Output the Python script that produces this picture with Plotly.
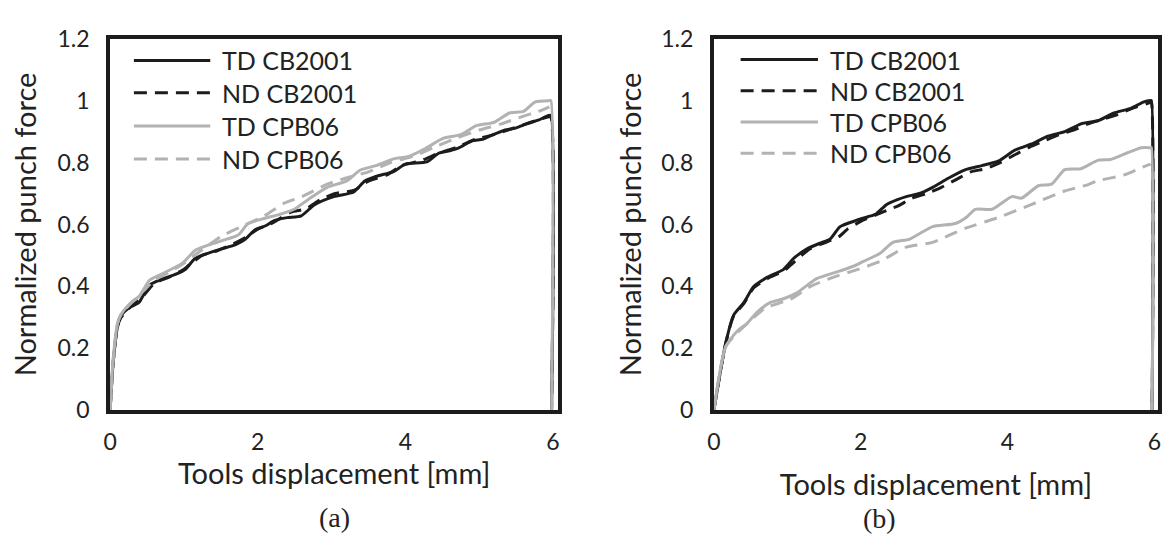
import plotly.graph_objects as go

W, H = 1162, 536

# ---------------- data: panel (a) ----------------
a_td_cb_x = [0, 0.04, 0.1, 0.15, 0.25, 0.39, 0.53, 0.71, 0.9, 1.02, 1.15, 1.3, 1.51, 1.7, 1.83, 1.96, 2.1, 2.23, 2.4, 2.59, 2.77, 3.03, 3.3, 3.45, 3.6, 3.84, 4.0, 4.29, 4.45, 4.6, 4.73, 4.9, 5.05, 5.18, 5.35, 5.5, 5.63, 5.8, 5.94, 5.97, 5.98]
a_td_cb_y = [0, 0.15, 0.27, 0.306, 0.33, 0.348, 0.404, 0.424, 0.44, 0.455, 0.49, 0.505, 0.521, 0.535, 0.552, 0.582, 0.595, 0.613, 0.622, 0.628, 0.664, 0.69, 0.705, 0.74, 0.755, 0.771, 0.795, 0.802, 0.83, 0.838, 0.848, 0.87, 0.875, 0.889, 0.905, 0.912, 0.924, 0.937, 0.952, 0.952, 0]

a_nd_cb_x = [0, 0.04, 0.1, 0.15, 0.3, 0.45, 0.6, 0.8, 1.0, 1.1, 1.25, 1.45, 1.65, 1.85, 2.0, 2.2, 2.45, 2.65, 2.85, 3.05, 3.3, 3.5, 3.75, 3.95, 4.2, 4.45, 4.7, 4.95, 5.2, 5.45, 5.7, 5.94, 5.97, 5.98]
a_nd_cb_y = [0, 0.15, 0.27, 0.3, 0.34, 0.37, 0.41, 0.43, 0.455, 0.475, 0.5, 0.515, 0.535, 0.56, 0.585, 0.605, 0.64, 0.65, 0.68, 0.7, 0.71, 0.74, 0.76, 0.79, 0.805, 0.83, 0.85, 0.875, 0.89, 0.91, 0.93, 0.948, 0.948, 0]

a_td_cpb_x = [0, 0.04, 0.1, 0.15, 0.25, 0.4, 0.53, 0.7, 0.98, 1.15, 1.35, 1.55, 1.74, 1.87, 2.1, 2.32, 2.5, 2.68, 2.94, 3.2, 3.39, 3.6, 3.84, 4.05, 4.29, 4.51, 4.75, 4.96, 5.2, 5.41, 5.6, 5.76, 5.95, 5.97, 5.98]
a_td_cpb_y = [0, 0.16, 0.28, 0.31, 0.34, 0.37, 0.419, 0.44, 0.475, 0.516, 0.535, 0.55, 0.567, 0.603, 0.62, 0.634, 0.65, 0.68, 0.72, 0.74, 0.776, 0.79, 0.812, 0.82, 0.848, 0.878, 0.89, 0.919, 0.93, 0.96, 0.965, 0.996, 1.0, 1.0, 0]

a_nd_cpb_x = [0, 0.04, 0.1, 0.15, 0.3, 0.45, 0.6, 0.8, 1.0, 1.2, 1.51, 1.78, 2.09, 2.36, 2.6, 2.94, 3.2, 3.5, 3.8, 4.1, 4.4, 4.7, 5.0, 5.3, 5.6, 5.8, 5.95]
a_nd_cpb_y = [0, 0.16, 0.28, 0.31, 0.35, 0.385, 0.42, 0.445, 0.475, 0.51, 0.562, 0.593, 0.628, 0.669, 0.69, 0.73, 0.75, 0.77, 0.8, 0.82, 0.85, 0.88, 0.905, 0.925, 0.95, 0.965, 0.98]

# ---------------- data: panel (b) ----------------
b_td_cb_x = [0, 0.16, 0.27, 0.41, 0.54, 0.73, 0.95, 1.09, 1.27, 1.45, 1.58, 1.72, 1.94, 2.1, 2.21, 2.35, 2.5, 2.62, 2.8, 2.98, 3.2, 3.43, 3.65, 3.88, 4.1, 4.33, 4.55, 4.78, 5.0, 5.23, 5.45, 5.68, 5.85, 5.95, 5.96, 5.97]
b_td_cb_y = [0, 0.215, 0.307, 0.348, 0.399, 0.43, 0.455, 0.491, 0.521, 0.54, 0.552, 0.593, 0.613, 0.625, 0.634, 0.664, 0.68, 0.69, 0.70, 0.72, 0.75, 0.777, 0.79, 0.805, 0.84, 0.86, 0.885, 0.90, 0.925, 0.935, 0.96, 0.975, 0.995, 1.0, 1.0, 0]

b_nd_cb_x = [0, 0.16, 0.27, 0.41, 0.54, 0.73, 0.95, 1.1, 1.3, 1.5, 1.7, 1.82, 2.0, 2.2, 2.4, 2.51, 2.7, 2.9, 3.1, 3.3, 3.5, 3.7, 3.9, 4.1, 4.3, 4.5, 4.7, 4.9, 5.1, 5.3, 5.5, 5.7, 5.9, 5.95, 5.96, 5.97]
b_nd_cb_y = [0, 0.215, 0.305, 0.345, 0.395, 0.425, 0.45, 0.48, 0.52, 0.54, 0.56, 0.585, 0.61, 0.63, 0.65, 0.66, 0.685, 0.70, 0.72, 0.745, 0.77, 0.78, 0.80, 0.825, 0.85, 0.87, 0.89, 0.905, 0.925, 0.94, 0.955, 0.975, 0.99, 0.995, 0.995, 0]

b_td_cpb_x = [0, 0.16, 0.32, 0.45, 0.59, 0.77, 0.95, 1.13, 1.25, 1.4, 1.72, 1.9, 2.03, 2.26, 2.44, 2.66, 2.8, 2.98, 3.29, 3.45, 3.56, 3.79, 4.06, 4.19, 4.42, 4.6, 4.78, 5.0, 5.23, 5.4, 5.59, 5.82, 5.95, 5.96, 5.97]
b_td_cpb_y = [0, 0.205, 0.256, 0.28, 0.317, 0.348, 0.36, 0.379, 0.40, 0.425, 0.45, 0.465, 0.48, 0.506, 0.542, 0.552, 0.57, 0.593, 0.603, 0.625, 0.649, 0.649, 0.69, 0.685, 0.725, 0.73, 0.777, 0.78, 0.807, 0.81, 0.827, 0.848, 0.848, 0.848, 0]

b_nd_cpb_x = [0, 0.16, 0.32, 0.5, 0.7, 1.04, 1.31, 1.63, 1.9, 2.26, 2.62, 2.98, 3.2, 3.43, 3.88, 4.33, 4.78, 5.09, 5.23, 5.59, 5.86, 5.95]
b_nd_cpb_y = [0, 0.205, 0.25, 0.29, 0.33, 0.358, 0.399, 0.43, 0.45, 0.48, 0.527, 0.542, 0.565, 0.588, 0.623, 0.665, 0.708, 0.728, 0.741, 0.76, 0.787, 0.795]

series_names = ["TD CB2001", "ND CB2001", "TD CPB06", "ND CPB06"]
x_tick_vals = [0, 2, 4, 6]
y_tick_vals = [0, 0.2, 0.4, 0.6, 0.8, 1, 1.2]
y_tick_text = ["0", "0.2", "0.4", "0.6", "0.8", "1", "1.2"]
x_title = "Tools displacement [mm]"
y_title = "Normalized punch force"
captions = ["(a)", "(b)"]

# ---------------- styles ----------------
BLACK = "#1c1c1c"
GRAY = "#b2b2b2"
TEXT = "#222222"
FONT = "Lato"
DASH = "13px,8px"
styles = [
    dict(color=BLACK, width=3, dash="solid"),
    dict(color=BLACK, width=3, dash=DASH),
    dict(color=GRAY, width=3, dash="solid"),
    dict(color=GRAY, width=3, dash=DASH),
]

panels = [
    ("x", "y", [(a_td_cb_x, a_td_cb_y), (a_nd_cb_x, a_nd_cb_y), (a_td_cpb_x, a_td_cpb_y), (a_nd_cpb_x, a_nd_cpb_y)]),
    ("x2", "y2", [(b_td_cb_x, b_td_cb_y), (b_nd_cb_x, b_nd_cb_y), (b_td_cpb_x, b_td_cpb_y), (b_nd_cpb_x, b_nd_cpb_y)]),
]

fig = go.Figure()
for xa, ya, data in panels:
    for name, (xs, ys), st in zip(series_names, data, styles):
        fig.add_trace(go.Scatter(x=xs, y=ys, mode="lines", name=name, xaxis=xa, yaxis=ya,
                                 line=dict(shape="spline", smoothing=0.6, **st), showlegend=False))

def px(x):
    return x / W

def py(y):
    return 1 - y / H

# plot-area geometry (pixels)
ytop, ybot = 25, 417
left_dom = (104, 556)
right_dom = (713, 1161)

axis_common = dict(showline=True, mirror=True, linewidth=4, linecolor=BLACK,
                   showgrid=False, zeroline=False, ticks="",
                   tickfont=dict(family=FONT, size=23, color=TEXT))
title_font = dict(family=FONT, size=29, color=TEXT)

fig.update_layout(
    width=W, height=H, margin=dict(l=0, r=0, t=0, b=0),
    paper_bgcolor="white", plot_bgcolor="white", showlegend=False,
    xaxis=dict(domain=[px(left_dom[0]), px(left_dom[1])], range=[0, 6.07], anchor="y",
               tickvals=x_tick_vals, ticklabelstandoff=8,
               title=dict(text=x_title, standoff=0, font=title_font), **axis_common),
    yaxis=dict(domain=[py(ybot), py(ytop)], range=[0, 1.2], anchor="x",
               tickvals=y_tick_vals, ticktext=y_tick_text, ticklabelstandoff=12,
               title=dict(text=y_title, standoff=13, font=title_font), **axis_common),
    xaxis2=dict(domain=[px(right_dom[0]), px(right_dom[1])], range=[0, 6.05], anchor="y2",
                tickvals=x_tick_vals, ticklabelstandoff=8,
                title=dict(text=x_title, standoff=22, font=title_font), **axis_common),
    yaxis2=dict(domain=[py(ybot), py(ytop)], range=[0, 1.2], anchor="x2",
                tickvals=y_tick_vals, ticktext=y_tick_text, ticklabelstandoff=12,
                title=dict(text=y_title, standoff=12, font=title_font), **axis_common),
)

# custom legends (long line samples as in the original)
legend_specs = [
    dict(line_x=(128, 205), text_x=215, rows=[48, 82, 117, 152]),
    dict(line_x=(740, 818), text_x=828, rows=[47, 80, 113, 146]),
]
shapes = []
annotations = []
for spec in legend_specs:
    for name, st, ry in zip(series_names, styles, spec["rows"]):
        shapes.append(dict(type="line", xref="paper", yref="paper",
                           x0=px(spec["line_x"][0]), x1=px(spec["line_x"][1]),
                           y0=py(ry), y1=py(ry), line=st))
        annotations.append(dict(text=name, xref="paper", yref="paper",
                                x=px(spec["text_x"]), y=py(ry), xanchor="left", yanchor="middle",
                                showarrow=False, font=dict(family=FONT, size=25, color=TEXT)))

for cap, cx, cy in zip(captions, [330, 880], [530, 531]):
    annotations.append(dict(text=cap, xref="paper", yref="paper", x=px(cx), y=py(cy),
                            xanchor="center", yanchor="middle", showarrow=False,
                            font=dict(family="Liberation Serif", size=28, color=TEXT)))

fig.update_layout(shapes=shapes, annotations=annotations)
fig.write_html("out.html")
